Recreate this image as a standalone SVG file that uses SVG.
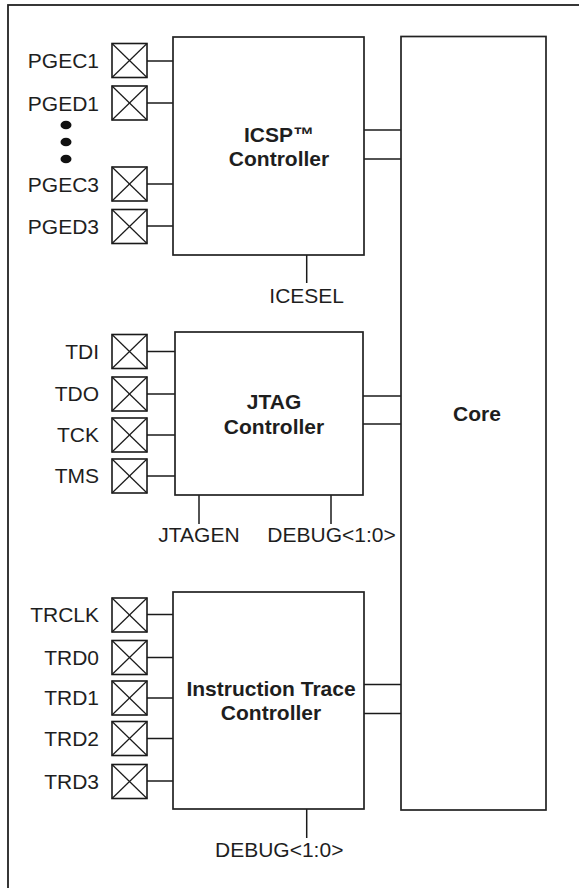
<svg xmlns="http://www.w3.org/2000/svg" width="579" height="888" viewBox="0 0 579 888">
<style>
.bg{fill:#ffffff}
.frame{fill:none;stroke:#222222;stroke-width:1.8}
.box{fill:#ffffff;stroke:#222222;stroke-width:1.7}
.pin{fill:#ffffff;stroke:#1a1a1a;stroke-width:1.6}
.x{stroke:#1a1a1a;stroke-width:1.2}
.w{stroke:#1a1a1a;stroke-width:1.5;fill:none}
.t{font-family:"Liberation Sans",Arial,sans-serif;font-size:21px;fill:#1e1e1e}
.r{text-anchor:end}
.c{text-anchor:middle}
.b{font-weight:bold}
.dot{fill:#111111}
</style>
<defs>
<g id="pinbox">
<rect class="pin" x="0" y="-17" width="35" height="34"/>
<line class="x" x1="0" y1="-17" x2="35" y2="17"/>
<line class="x" x1="35" y1="-17" x2="0" y2="17"/>
</g>
</defs>
<rect class="bg" x="0" y="0" width="579" height="888"/>
<rect class="frame" x="8" y="5" width="580" height="900"/>

<g id="connectors">
<line class="w" x1="147" y1="61" x2="176" y2="61"/>
<line class="w" x1="147" y1="103" x2="176" y2="103"/>
<line class="w" x1="147" y1="184" x2="176" y2="184"/>
<line class="w" x1="147" y1="226" x2="176" y2="226"/>
<line class="w" x1="364" y1="130" x2="401" y2="130"/>
<line class="w" x1="364" y1="159" x2="401" y2="159"/>
<line class="w" x1="306.7" y1="255" x2="306.7" y2="283"/>
<line class="w" x1="147" y1="351.5" x2="176" y2="351.5"/>
<line class="w" x1="147" y1="394" x2="176" y2="394"/>
<line class="w" x1="147" y1="435" x2="176" y2="435"/>
<line class="w" x1="147" y1="476" x2="176" y2="476"/>
<line class="w" x1="363" y1="396" x2="401" y2="396"/>
<line class="w" x1="363" y1="424" x2="401" y2="424"/>
<line class="w" x1="199" y1="495" x2="199" y2="524"/>
<line class="w" x1="331" y1="495" x2="331" y2="524"/>
<line class="w" x1="147" y1="614.5" x2="176" y2="614.5"/>
<line class="w" x1="147" y1="657.5" x2="176" y2="657.5"/>
<line class="w" x1="147" y1="698" x2="176" y2="698"/>
<line class="w" x1="147" y1="738.5" x2="176" y2="738.5"/>
<line class="w" x1="147" y1="781" x2="176" y2="781"/>
<line class="w" x1="364" y1="684.5" x2="401" y2="684.5"/>
<line class="w" x1="364" y1="713.5" x2="401" y2="713.5"/>
<line class="w" x1="306.7" y1="809" x2="306.7" y2="838"/>
</g>

<g id="icsp">
<rect class="box" x="173" y="37" width="191" height="218"/>
<text class="t b c" x="279" y="142">ICSP™</text>
<text class="t b c" x="279" y="166">Controller</text>
</g>
<g id="jtag">
<rect class="box" x="175" y="332" width="188" height="163"/>
<text class="t b c" x="274" y="409">JTAG</text>
<text class="t b c" x="274" y="434">Controller</text>
</g>
<g id="trace">
<rect class="box" x="173" y="592" width="191" height="217"/>
<text class="t b c" x="271" y="696">Instruction Trace</text>
<text class="t b c" x="271" y="720">Controller</text>
</g>
<g id="core">
<rect class="box" x="401" y="36.5" width="145" height="773.5"/>
<text class="t b c" x="477" y="421">Core</text>
</g>

<g id="pin-pgec1"><use href="#pinbox" x="112" y="60.5"/><text class="t r" x="99" y="68">PGEC1</text></g>
<g id="pin-pged1"><use href="#pinbox" x="112" y="103"/><text class="t r" x="99" y="110.5">PGED1</text></g>
<g id="ellipsis">
<ellipse class="dot" cx="66" cy="125" rx="5.5" ry="4.3"/>
<ellipse class="dot" cx="66" cy="142" rx="5.5" ry="4.3"/>
<ellipse class="dot" cx="66" cy="159" rx="5.5" ry="4.3"/>
</g>
<g id="pin-pgec3"><use href="#pinbox" x="112" y="184"/><text class="t r" x="99" y="191.5">PGEC3</text></g>
<g id="pin-pged3"><use href="#pinbox" x="112" y="226.5"/><text class="t r" x="99" y="234">PGED3</text></g>
<g id="sig-icesel"><text class="t c" x="306.7" y="302.5">ICESEL</text></g>

<g id="pin-tdi"><use href="#pinbox" x="112" y="351.5"/><text class="t r" x="99" y="358.5">TDI</text></g>
<g id="pin-tdo"><use href="#pinbox" x="112" y="394"/><text class="t r" x="99" y="401">TDO</text></g>
<g id="pin-tck"><use href="#pinbox" x="112" y="435"/><text class="t r" x="99" y="442">TCK</text></g>
<g id="pin-tms"><use href="#pinbox" x="112" y="476"/><text class="t r" x="99" y="483">TMS</text></g>
<g id="sig-jtagen"><text class="t c" x="199" y="542">JTAGEN</text></g>
<g id="sig-debug1"><text class="t c" x="331.5" y="542">DEBUG&lt;1:0&gt;</text></g>

<g id="pin-trclk"><use href="#pinbox" x="112" y="615"/><text class="t r" x="99" y="622">TRCLK</text></g>
<g id="pin-trd0"><use href="#pinbox" x="112" y="657.5"/><text class="t r" x="99" y="664.5">TRD0</text></g>
<g id="pin-trd1"><use href="#pinbox" x="112" y="698"/><text class="t r" x="99" y="705">TRD1</text></g>
<g id="pin-trd2"><use href="#pinbox" x="112" y="738.5"/><text class="t r" x="99" y="745.5">TRD2</text></g>
<g id="pin-trd3"><use href="#pinbox" x="112" y="781.5"/><text class="t r" x="99" y="788.5">TRD3</text></g>
<g id="sig-debug2"><text class="t" x="215" y="857">DEBUG&lt;1:0&gt;</text></g>
</svg>
